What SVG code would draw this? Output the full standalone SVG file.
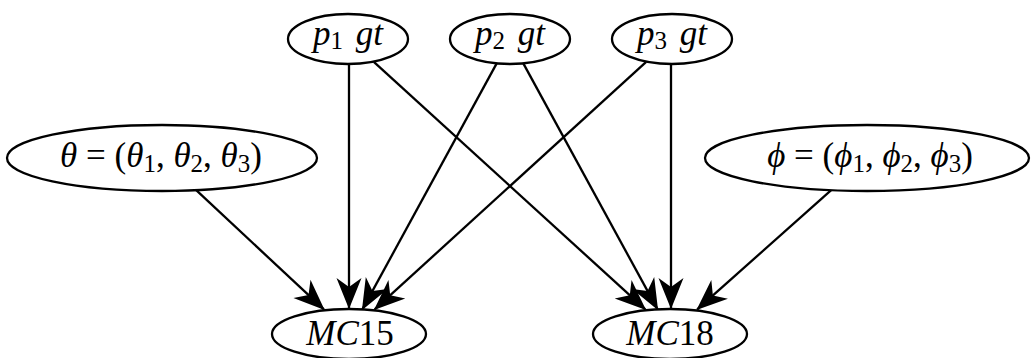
<svg xmlns="http://www.w3.org/2000/svg" width="1032" height="358" viewBox="0 0 1032 358">
<style>
.n{fill:#fff;stroke:#000;stroke-width:2.3}
.e{fill:none;stroke:#000;stroke-width:2.3;marker-end:url(#ah)}
text{font-family:"Liberation Serif","Times New Roman",serif;font-size:35px;fill:#000;text-anchor:middle}
.i{font-style:italic}
.s{font-size:25px}
</style>
<defs>
<marker id="ah" markerUnits="userSpaceOnUse" viewBox="-32 -13 34 26" refX="0" refY="0" markerWidth="34" markerHeight="26" orient="auto" overflow="visible">
<path d="M1,0 L-30,-12.5 L-21,0 L-30,12.5 Z" fill="#000"/>
</marker>
</defs>
<rect width="1032" height="358" fill="#fff"/>
<g id="connectors">
<line class="e" x1="349" y1="64" x2="349" y2="308"/>
<line class="e" x1="373.8" y1="61.8" x2="645.3" y2="309.4"/>
<line class="e" x1="496.7" y1="63.4" x2="362.4" y2="309.4"/>
<line class="e" x1="523.3" y1="63.4" x2="657.6" y2="309.4"/>
<line class="e" x1="646.2" y1="61.8" x2="374.7" y2="309.4"/>
<line class="e" x1="671" y1="64" x2="671" y2="308"/>
<line class="e" x1="196.2" y1="190.2" x2="323.9" y2="309.4"/>
<line class="e" x1="831.2" y1="190.2" x2="697.2" y2="309.4"/>
</g>
<g id="p1">
<ellipse class="n" cx="348" cy="39" rx="60" ry="25"/>
<text x="348" y="45"><tspan class="i">p</tspan><tspan class="s" dy="4">1</tspan><tspan class="i" dy="-4" dx="4"> gt</tspan></text>
</g>
<g id="p2">
<ellipse class="n" cx="510" cy="39" rx="60" ry="25"/>
<text x="510" y="45"><tspan class="i">p</tspan><tspan class="s" dy="4">2</tspan><tspan class="i" dy="-4" dx="4"> gt</tspan></text>
</g>
<g id="p3">
<ellipse class="n" cx="672" cy="39" rx="60" ry="25"/>
<text x="672" y="45"><tspan class="i">p</tspan><tspan class="s" dy="4">3</tspan><tspan class="i" dy="-4" dx="4"> gt</tspan></text>
</g>
<g id="theta">
<ellipse class="n" cx="162" cy="158" rx="155" ry="33"/>
<text x="161" y="167"><tspan class="i">θ</tspan> = (<tspan class="i">θ</tspan><tspan class="s" dy="5">1</tspan><tspan dy="-5">, </tspan><tspan class="i">θ</tspan><tspan class="s" dy="5">2</tspan><tspan dy="-5">, </tspan><tspan class="i">θ</tspan><tspan class="s" dy="5">3</tspan><tspan dy="-5">)</tspan></text>
</g>
<g id="phi">
<ellipse class="n" cx="867" cy="158" rx="162" ry="33"/>
<text x="870" y="167"><tspan class="i">ϕ</tspan> = (<tspan class="i">ϕ</tspan><tspan class="s" dy="5">1</tspan><tspan dy="-5">, </tspan><tspan class="i">ϕ</tspan><tspan class="s" dy="5">2</tspan><tspan dy="-5">, </tspan><tspan class="i">ϕ</tspan><tspan class="s" dy="5">3</tspan><tspan dy="-5">)</tspan></text>
</g>
<g id="mc15">
<ellipse class="n" cx="349" cy="334" rx="77" ry="25"/>
<text x="350" y="345"><tspan class="i">MC</tspan>15</text>
</g>
<g id="mc18">
<ellipse class="n" cx="670" cy="334" rx="77" ry="25"/>
<text x="670" y="345"><tspan class="i">MC</tspan>18</text>
</g>
</svg>
